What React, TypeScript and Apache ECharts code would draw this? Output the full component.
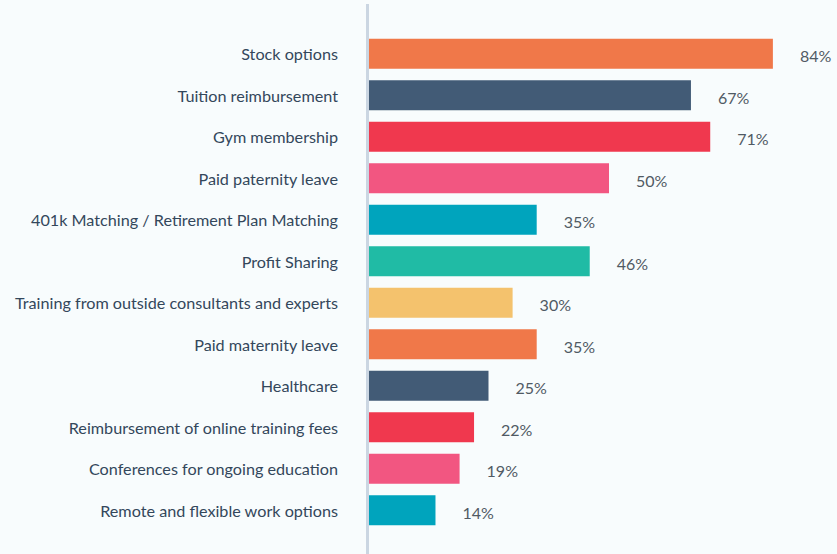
import React, { useEffect, useRef } from "react";
import * as echarts from "echarts";

const categories = [
  "Stock options",
  "Tuition reimbursement",
  "Gym membership",
  "Paid paternity leave",
  "401k Matching / Retirement Plan Matching",
  "Profit Sharing",
  "Training from outside consultants and experts",
  "Paid maternity leave",
  "Healthcare",
  "Reimbursement of online training fees",
  "Conferences for ongoing education",
  "Remote and flexible work options",
];
const values = [84, 67, 71, 50, 35, 46, 30, 35, 25, 22, 19, 14];
const barColors = [
  "#f07849",
  "#425b76",
  "#f0384e",
  "#f25681",
  "#00a4bd",
  "#20bba5",
  "#f4c26d",
  "#f07849",
  "#425b76",
  "#f0384e",
  "#f25681",
  "#00a4bd",
];

export default function App() {
  const ref = useRef<HTMLDivElement>(null);
  useEffect(() => {
    document.body.style.margin = "0";
    document.body.style.background = "#f8fcfd";
    if (!ref.current) return;
    const chart = echarts.init(ref.current, undefined, { renderer: "svg" });
    chart.setOption({
      animation: false,
      backgroundColor: "#f8fcfd",
      grid: { left: 368, top: 33, right: 0, height: 498, containLabel: false },
      xAxis: {
        type: "value",
        min: 0,
        max: 97.3,
        show: false,
      },
      yAxis: {
        type: "category",
        data: categories,
        inverse: true,
        axisLine: { show: false },
        axisTick: { show: false },
        axisLabel: {
          color: "#33475b",
          fontFamily: "Lato",
          fontSize: 16.2,
          margin: 30,
        },
      },
      graphic: [
        {
          type: "rect",
          shape: { x: 366, y: 4, width: 3, height: 550 },
          style: { fill: "#cbd6e2" },
          z: 10,
        },
      ],
      series: [
        {
          type: "bar",
          data: values.map((v, i) => ({ value: v, itemStyle: { color: barColors[i] } })),
          barWidth: 30,
          label: {
            show: true,
            position: "right",
            distance: 27,
            offset: [0, 2],
            formatter: "{c}%",
            color: "#505a64",
            fontFamily: "Lato",
            fontSize: 16,
          },
        },
      ],
    });
    return () => chart.dispose();
  }, []);
  return <div ref={ref} style={{ width: 837, height: 554 }} />;
}
